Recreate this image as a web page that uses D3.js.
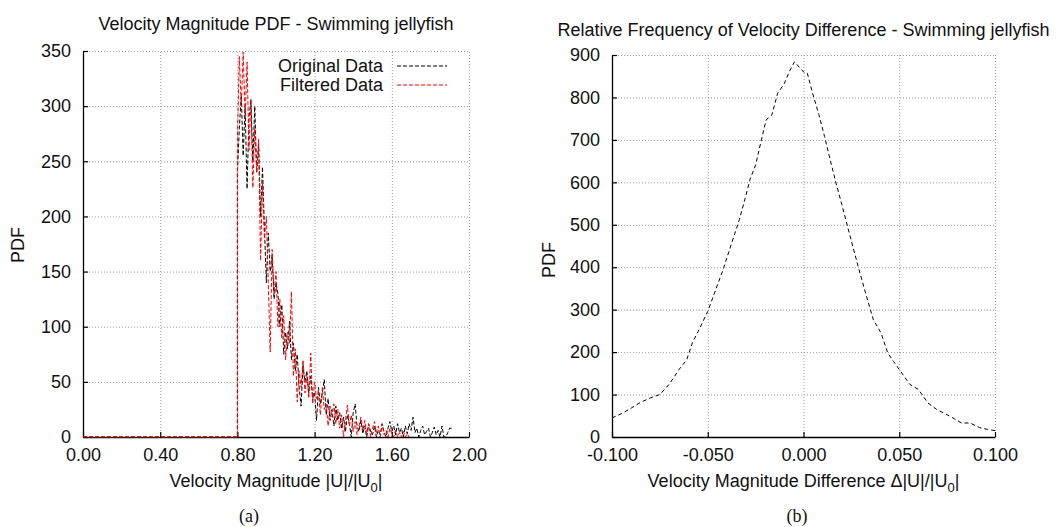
<!DOCTYPE html>
<html>
<head>
<meta charset="utf-8">
<script src="https://cdn.jsdelivr.net/npm/d3@7"></script>
<style>
  body { margin: 0; background: #fff; }
  svg text { font-family: "Liberation Sans", Arial, sans-serif; fill: #111; }
  .grid line { stroke: #9a9a9a; stroke-dasharray: 1,2; }
  .grid path { display: none; }
</style>
</head>
<body>
<script>
// ---- panel (a): velocity magnitude PDF ----
const velTicksX = [0.0, 0.4, 0.8, 1.2, 1.6, 2.0];
const velTicksY = [0, 50, 100, 150, 200, 250, 300, 350];

// both series are zero from 0.00 up to 0.80, then histogram bins of 0.01
const leadX = [0.0, 0.8];
const leadY = [0, 0];

const origBins = d3.range(80, 192).map(i => i / 100);
const origPdf = [
  240, 280, 310, 255, 300, 225, 290, 305, 250, 300,
  240, 265, 200, 245, 190, 140, 185, 150, 165, 125,
  140, 130, 100, 120, 75, 95, 80, 105, 70, 85,
  60, 75, 45, 28, 65, 50, 60, 40, 55, 35,
  40, 15, 45, 30, 40, 52, 20, 35, 15, 25,
  10, 28, 15, 22, 8, 18, 5, 20, 12, 0,
  22, 30, 10, 5, 15, 3, 10, 0, 12, 5,
  2, 10, 0, 6, 2, 12, 4, 0, 8, 14,
  5, 10, 2, 12, 4, 8, 0, 10, 3, 12,
  6, 18, 4, 8, 0, 6, 10, 2, 5, 8,
  0, 4, 9, 2, 6, 0, 10, 0, 0, 4,
  8, 8
];

const filtBins = d3.range(80, 170).map(i => i / 100);
const filtPdf = [
  270, 345, 300, 349, 290, 340, 260, 307, 226, 280,
  240, 270, 160, 230, 180, 200, 140, 77, 170, 130,
  150, 100, 125, 90, 110, 70, 95, 85, 132, 55,
  80, 32, 60, 45, 70, 40, 55, 35, 76, 30,
  50, 35, 40, 20, 45, 25, 30, 10, 28, 18,
  30, 12, 25, 8, 20, 0, 15, 29, 10, 20,
  5, 14, 2, 10, 18, 6, 15, 3, 12, 0,
  8, 14, 4, 10, 0, 12, 2, 6, 0, 8,
  3, 0, 6, 0, 4, 0, 5, 0, 3, 0
];

// ---- panel (b): velocity magnitude difference ----
const diffTicksX = [-0.1, -0.05, 0.0, 0.05, 0.1];
const diffTicksY = [0, 100, 200, 300, 400, 500, 600, 700, 800, 900];

const diffX = [
  -0.100, -0.095, -0.090, -0.085, -0.080, -0.075, -0.070, -0.065, -0.061, -0.058,
  -0.054, -0.050, -0.046, -0.042, -0.038, -0.0335, -0.030, -0.028, -0.025, -0.022,
  -0.0195, -0.0165, -0.0135, -0.010, -0.0075, -0.0047, -0.002, 0.0005, 0.002, 0.005,
  0.008, 0.011, 0.014, 0.017, 0.020, 0.023, 0.026, 0.029, 0.033, 0.0365,
  0.0405, 0.044, 0.047, 0.050, 0.0555, 0.060, 0.065, 0.0695, 0.0765, 0.0825,
  0.087, 0.092, 0.096, 0.100
];
const diffPdf = [
  45, 55, 68, 82, 92, 100, 125, 159, 182, 222,
  258, 296, 345, 394, 450, 512, 570, 606, 641, 700,
  747, 759, 810, 833, 860, 884, 870, 858, 857, 806,
  760, 708, 652, 598, 548, 496, 445, 394, 330, 276,
  245, 198, 178, 159, 124, 112, 80, 65, 49, 33,
  33, 22, 18, 15
];

const width = 1057;
const height = 527;

const svg = d3.select("body")
    .append("svg")
    .attr("width", width)
    .attr("height", height);

svg.append("rect").attr("width", width).attr("height", height).attr("fill", "#fff");

function drawPanel(p) {
    const x = d3.scaleLinear().domain(p.xDomain).range([p.left, p.right]);
    const y = d3.scaleLinear().domain(p.yDomain).range([p.bottom, p.top]);
    const w = p.right - p.left;
    const h = p.bottom - p.top;

    // dotted grid
    svg.append("g")
        .attr("class", "grid")
        .attr("transform", `translate(0,${p.bottom})`)
        .call(d3.axisBottom(x).tickValues(p.xTicks.slice(1)).tickSize(-h).tickFormat(""));
    svg.append("g")
        .attr("class", "grid")
        .attr("transform", `translate(${p.left},0)`)
        .call(d3.axisLeft(y).tickValues(p.yTicks.slice(1)).tickSize(-w).tickFormat(""));

    // inner tick marks + axis lines
    const xAx = svg.append("g")
        .attr("transform", `translate(0,${p.bottom})`)
        .call(d3.axisBottom(x).tickValues(p.xTicks).tickSizeInner(-5).tickSizeOuter(0).tickFormat(""));
    const yAx = svg.append("g")
        .attr("transform", `translate(${p.left},0)`)
        .call(d3.axisLeft(y).tickValues(p.yTicks).tickSizeInner(-5).tickSizeOuter(0).tickFormat(""));
    [xAx, yAx].forEach(g => {
        g.select(".domain").attr("stroke", "#000").attr("stroke-width", 1.3);
        g.selectAll(".tick line").attr("stroke", "#000").attr("stroke-width", 1.2);
    });

    // tick labels
    svg.append("g")
        .attr("transform", `translate(0,${p.bottom})`)
        .call(d3.axisBottom(x).tickValues(p.xTicks).tickSize(0).tickPadding(11).tickFormat(p.xFormat))
        .call(g => g.select(".domain").remove())
        .selectAll("text").attr("font-size", 18).attr("fill", "#111")
        .attr("font-family", "Liberation Sans, Arial, sans-serif");
    svg.append("g")
        .attr("transform", `translate(${p.left},0)`)
        .call(d3.axisLeft(y).tickValues(p.yTicks).tickSize(0).tickPadding(12).tickFormat(d => d))
        .call(g => g.select(".domain").remove())
        .selectAll("text").attr("font-size", 18).attr("fill", "#111")
        .attr("font-family", "Liberation Sans, Arial, sans-serif");

    // title
    svg.append("text")
        .attr("x", (p.left + p.right) / 2)
        .attr("y", p.titleY)
        .attr("text-anchor", "middle")
        .attr("font-size", 18)
        .text(p.title);

    // x label with subscript
    const xl = svg.append("text")
        .attr("x", (p.left + p.right) / 2)
        .attr("y", 487)
        .attr("text-anchor", "middle")
        .attr("font-size", 18);
    xl.append("tspan").text(p.xLabel);
    xl.append("tspan").attr("dy", 5).attr("font-size", 13).text("0");
    xl.append("tspan").attr("dy", -5).text("|");

    // y label
    svg.append("text")
        .attr("transform", `translate(${p.yLabelX},${p.yLabelY}) rotate(-90)`)
        .attr("text-anchor", "middle")
        .attr("font-size", 18)
        .text("PDF");

    // caption
    svg.append("text")
        .attr("x", p.captionX)
        .attr("y", 522)
        .attr("text-anchor", "middle")
        .attr("font-size", 18)
        .style("font-family", "Liberation Serif, Times New Roman, serif")
        .text(p.caption);

    return {x, y};
}

// panel (a)
const a = drawPanel({
    left: 83, right: 469, top: 51, bottom: 437,
    xDomain: [0, 2], yDomain: [0, 350],
    xTicks: velTicksX, yTicks: velTicksY,
    xFormat: d => d.toFixed(2),
    title: "Velocity Magnitude PDF - Swimming jellyfish", titleY: 30,
    xLabel: "Velocity Magnitude |U|/|U",
    yLabelX: 24, yLabelY: 245,
    caption: "(a)", captionX: 249
});

const lineA = d3.line().x(d => a.x(d[0])).y(d => a.y(d[1]));
const origPts = leadX.map((v, i) => [v, leadY[i]]).concat(origBins.map((v, i) => [v, origPdf[i]]));
const filtPts = leadX.map((v, i) => [v, leadY[i]]).concat(filtBins.map((v, i) => [v, filtPdf[i]]));

svg.append("path")
    .datum(origPts)
    .attr("d", lineA)
    .attr("fill", "none")
    .attr("stroke", "#000")
    .attr("stroke-width", 1)
    .attr("stroke-dasharray", "4,2");

svg.append("path")
    .datum(filtPts)
    .attr("d", lineA)
    .attr("fill", "none")
    .attr("stroke", "#f00")
    .attr("stroke-width", 1)
    .attr("stroke-dasharray", "4,2");

// legend
const legend = [
    {name: "Original Data", color: "#000", y: 72},
    {name: "Filtered Data", color: "#f00", y: 91}
];
legend.forEach(l => {
    svg.append("text")
        .attr("x", 383).attr("y", l.y)
        .attr("text-anchor", "end")
        .attr("font-size", 18)
        .text(l.name);
    svg.append("line")
        .attr("x1", 397).attr("x2", 447)
        .attr("y1", l.y - 6).attr("y2", l.y - 6)
        .attr("stroke", l.color)
        .attr("stroke-width", 1)
        .attr("stroke-dasharray", "4,2");
});

// panel (b)
const b = drawPanel({
    left: 612, right: 995, top: 55, bottom: 437,
    xDomain: [-0.1, 0.1], yDomain: [0, 900],
    xTicks: diffTicksX, yTicks: diffTicksY,
    xFormat: d => d.toFixed(3),
    title: "Relative Frequency of Velocity Difference - Swimming jellyfish", titleY: 36,
    xLabel: "Velocity Magnitude Difference \u0394|U|/|U",
    yLabelX: 555, yLabelY: 260,
    caption: "(b)", captionX: 797
});

svg.append("path")
    .datum(diffX.map((v, i) => [v, diffPdf[i]]))
    .attr("d", d3.line().x(d => b.x(d[0])).y(d => b.y(d[1])))
    .attr("fill", "none")
    .attr("stroke", "#000")
    .attr("stroke-width", 1)
    .attr("stroke-dasharray", "4,3");
</script>
</body>
</html>
